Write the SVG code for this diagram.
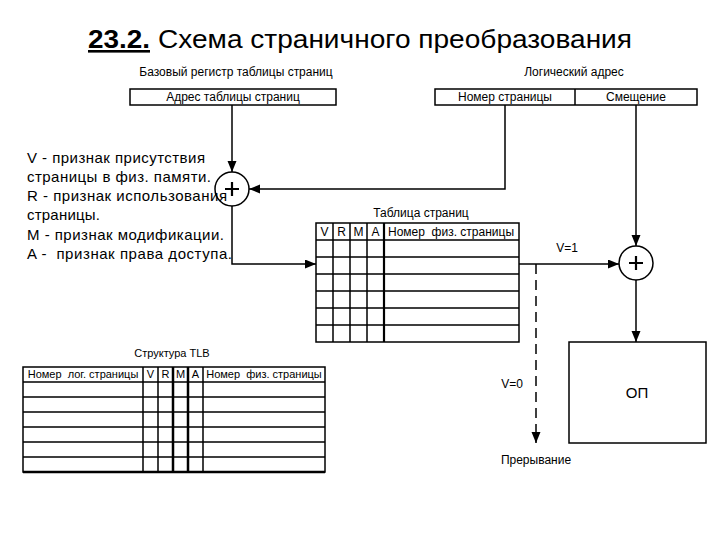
<svg xmlns="http://www.w3.org/2000/svg" width="720" height="540" viewBox="0 0 720 540">
<defs>
<style>
text{font-family:"Liberation Sans",Arial,sans-serif;fill:#000}
.box{fill:#fff;stroke:#000;stroke-width:1.5}
.ln{fill:none;stroke:#000;stroke-width:1.5}
.thick{fill:none;stroke:#000;stroke-width:2.5}
.con{fill:none;stroke:#000;stroke-width:1.5}
.dash{stroke-dasharray:10 6}
.lbl{font-size:12px;text-anchor:middle}
.th{font-size:12px;text-anchor:middle}
.tt{font-size:11px;text-anchor:middle}
.leg{font-size:15px}
.plus{fill:none;stroke:#000;stroke-width:2.2}
</style>
<marker id="arr" markerUnits="userSpaceOnUse" markerWidth="12" markerHeight="10" refX="11" refY="4.5" orient="auto">
<path d="M0,0 L11,4.5 L0,9 z" fill="#000"/>
</marker>
</defs>
<rect width="720" height="540" fill="#fff"/>

<g id="title">
<text x="88" y="48" font-size="26" font-weight="bold" text-decoration="underline" textLength="62" lengthAdjust="spacingAndGlyphs">23.2.</text>
<text x="158" y="48" font-size="26" textLength="474" lengthAdjust="spacingAndGlyphs">Схема страничного преобразования</text>
</g>

<g id="base-register">
<text class="lbl" x="236" y="76">Базовый регистр таблицы страниц</text>
<rect class="box" x="130" y="89" width="206" height="16"/>
<text class="lbl" x="233" y="101">Адрес таблицы страниц</text>
</g>

<g id="logical-address">
<text class="lbl" x="574" y="76">Логический адрес</text>
<rect class="box" x="435" y="89" width="262" height="16"/>
<line class="ln" x1="575" y1="89" x2="575" y2="105"/>
<text class="lbl" x="505" y="101">Номер страницы</text>
<text class="lbl" x="636" y="101">Смещение</text>
</g>

<g id="legend">
<text class="leg" x="27" y="163" textLength="178" lengthAdjust="spacing">V - признак присутствия</text>
<text class="leg" x="27" y="182" textLength="184" lengthAdjust="spacing">страницы в физ. памяти.</text>
<text class="leg" x="27" y="201" textLength="200" lengthAdjust="spacing">R - признак использования</text>
<text class="leg" x="27" y="220" textLength="73" lengthAdjust="spacing">страницы.</text>
<text class="leg" x="27" y="240" textLength="197" lengthAdjust="spacing">M - признак модификации.</text>
<text class="leg" x="27" y="259" textLength="205" lengthAdjust="spacing" xml:space="preserve">A -  признак права доступа.</text>
</g>

<g id="adder1">
<circle cx="232" cy="189" r="17" fill="none" stroke="#000" stroke-width="1.5"/>
<path class="plus" d="M225,189 H239 M232,182 V196"/>
</g>

<g id="page-table">
<text class="lbl" x="421" y="217">Таблица страниц</text>
<rect class="box" x="316" y="223" width="203" height="119"/>
<path class="ln" d="M316,240 H519 M316,257 H519 M316,274 H519 M316,291 H519 M316,308 H519 M316,325 H519 M333,223 V342 M350,223 V342 M367,223 V342"/>
<line x1="384" y1="223" x2="384" y2="342" stroke="#000" stroke-width="2.2"/>
<text class="th" x="324.5" y="236">V</text>
<text class="th" x="341.5" y="236">R</text>
<text class="th" x="358.5" y="236">M</text>
<text class="th" x="375.5" y="236">A</text>
<text class="th" x="451" y="236" xml:space="preserve">Номер  физ. страницы</text>
</g>

<g id="adder2">
<circle cx="636" cy="263" r="17" fill="none" stroke="#000" stroke-width="1.5"/>
<path class="plus" d="M629,263 H643 M636,256 V270"/>
</g>

<g id="op">
<rect class="box" x="569" y="342" width="137" height="101"/>
<text x="637" y="398" font-size="15" text-anchor="middle">ОП</text>
</g>

<g id="interrupt">
<text class="lbl" x="536" y="464">Прерывание</text>
</g>

<g id="tlb">
<text class="tt" x="172" y="357">Структура TLB</text>
<rect class="box" x="23" y="367" width="302" height="105"/>
<path class="ln" d="M23,382 H325 M23,397 H325 M23,412 H325 M23,427 H325 M23,442 H325 M23,457 H325 M143,367 V472 M158,367 V472 M203,367 V472"/>
<path class="thick" d="M173,367 V472 M188,367 V472 M23,472 H325"/>
<text class="tt" x="83" y="378" xml:space="preserve">Номер  лог. страницы</text>
<text class="tt" x="150.5" y="378">V</text>
<text class="tt" x="165.5" y="378">R</text>
<text class="tt" x="180.5" y="378">M</text>
<text class="tt" x="195.5" y="378">A</text>
<text class="tt" x="264" y="378" xml:space="preserve">Номер  физ. страницы</text>
</g>

<g id="connectors">
<path class="con" d="M232,105 V172" marker-end="url(#arr)"/>
<path class="con" d="M505,105 V189 H249" marker-end="url(#arr)"/>
<path class="con" d="M232,206 V264 H316" marker-end="url(#arr)"/>
<path class="con" d="M636,105 V246" marker-end="url(#arr)"/>
<path class="con" d="M519,264 H619" marker-end="url(#arr)"/>
<path class="con" d="M636,280 V342" marker-end="url(#arr)"/>
<path class="con dash" d="M536,264 V443" marker-end="url(#arr)"/>
<text class="lbl" x="567" y="252">V=1</text>
<text class="lbl" x="512" y="388">V=0</text>
</g>
</svg>
